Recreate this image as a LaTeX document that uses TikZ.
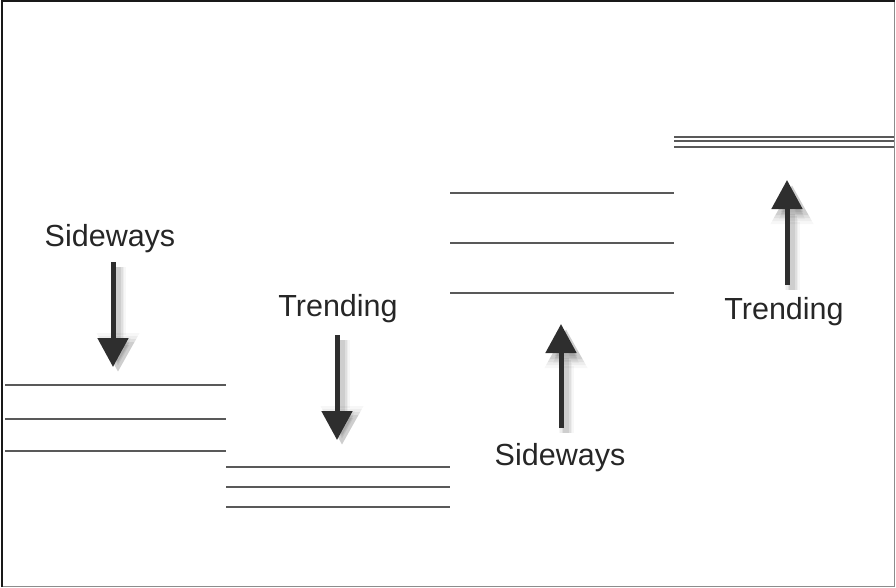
\documentclass[tikz,border=0pt]{standalone}
\usepackage{fontspec}
\setmainfont{Liberation Sans}
\usetikzlibrary{arrows.meta,positioning}
\tikzset{
  level/.style={draw=black!65,line width=1.3pt},
  lbl/.style={anchor=base,inner sep=0pt,text=black!85,
              font=\fontsize{30.5}{36}\selectfont},
  blurlayer/.style 2 args={preaction={draw=black,opacity=#2,line width=#1,
      -{Triangle[length=29pt+#1-5pt,width=30pt+#1-5pt]},
      transform canvas={shift={(5pt,-5pt)}}}},
  bigarrow/.style={draw=black!82,line width=5pt,
    -{Triangle[length=29pt,width=30pt]},
    blurlayer={15pt}{0.03},blurlayer={12pt}{0.04},
    blurlayer={9pt}{0.06},blurlayer={6pt}{0.08}},
}

\begin{document}
\begin{tikzpicture}[x=1pt,y=-1pt]
  \useasboundingbox (0,0) rectangle (896,588);
  % frame
  \draw[black!45,line width=1pt] (2.5,1.5) rectangle (894.5,586.5);
  \draw[black!90,line width=2pt] (2,587) -- (2,1) -- (895,1);

  % price levels
  \foreach \y in {385,419,451} \draw[level] (5,\y) -- (226,\y);
  \foreach \y in {467,487,507} \draw[level] (226,\y) -- (450,\y);
  \foreach \y in {193,243,293} \draw[level] (450,\y) -- (674,\y);
  \foreach \y in {137,141,147} \draw[level] (674,\y) -- (894,\y);

  % labels
  \node[lbl] (side1)  at (110,246) {Sideways};
  \node[lbl] (trend1) at (338,316) {Trending};
  \node[lbl] (side2)  at (560,465) {Sideways};
  \node[lbl] (trend2) at (784,319) {Trending};

  % arrows
  \coordinate (d1s) at (113,262); \coordinate (d1t) at (113,367);
  \coordinate (d2s) at (337,335); \coordinate (d2t) at (337,440);
  \coordinate (u1s) at (561,428); \coordinate (u1t) at (561,324);
  \coordinate (u2s) at (787,285); \coordinate (u2t) at (787,180);
  \draw[bigarrow] (d1s) -- (d1t);
  \draw[bigarrow] (d2s) -- (d2t);
  \draw[bigarrow] (u1s) -- (u1t);
  \draw[bigarrow] (u2s) -- (u2t);
\end{tikzpicture}
\end{document}
